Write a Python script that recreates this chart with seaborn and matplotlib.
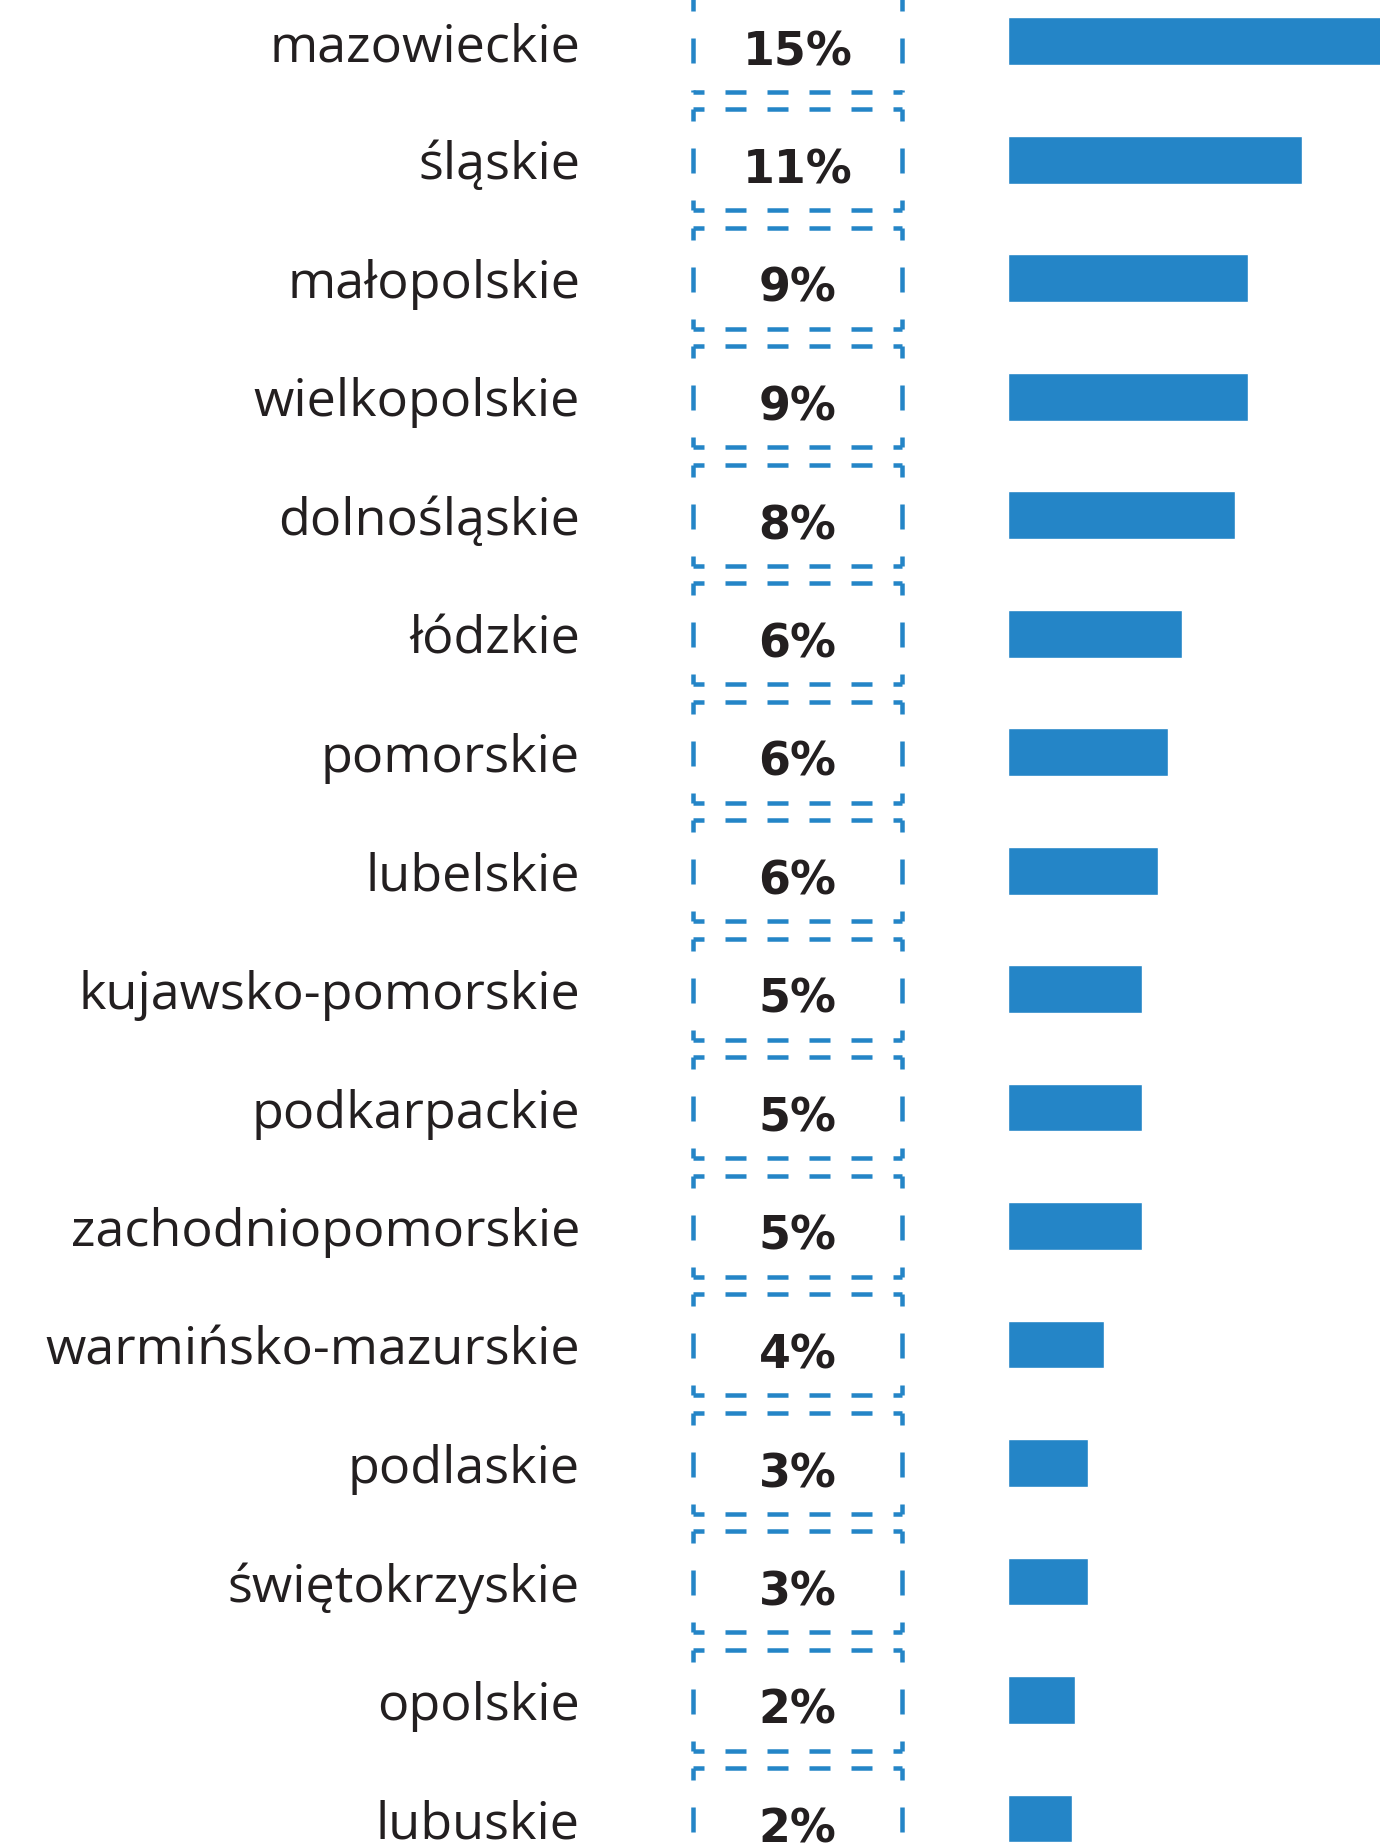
import matplotlib
matplotlib.use("Agg")
import matplotlib.pyplot as plt
import matplotlib.transforms as mtransforms
import seaborn as sns

# data
regions = [
    "mazowieckie", "śląskie", "małopolskie", "wielkopolskie", "dolnośląskie",
    "łódzkie", "pomorskie", "lubelskie", "kujawsko-pomorskie", "podkarpackie",
    "zachodniopomorskie", "warmińsko-mazurskie", "podlaskie", "świętokrzyskie",
    "opolskie", "lubuskie",
]
shares = [15.0, 11.0, 9.0, 9.0, 8.5, 6.5, 6.0, 5.6, 5.0, 5.0, 5.0, 3.6, 3.0, 3.0, 2.5, 2.4]
share_labels = ["15%", "11%", "9%", "9%", "8%", "6%", "6%", "6%",
                "5%", "5%", "5%", "4%", "3%", "3%", "2%", "2%"]

BLUE = "#2485c7"
DARK = "#231f20"

W, H = 1380, 1845
DPI = 100
PX = 72 / DPI  # points per pixel

sns.set_theme(style="white")
plt.rcParams["font.family"] = ["Open Sans", "DejaVu Sans"]
plt.rcParams["lines.scale_dashes"] = False

fig = plt.figure(figsize=(W / DPI, H / DPI), dpi=DPI)

# bar axes: starts at x=1008 px, runs to the right edge
bar_x0 = 1008
px_per_pct = 26.7
row_h = 118.5
first_row = 41
ax = fig.add_axes([bar_x0 / W, 0, (W - bar_x0) / W, 1])

sns.barplot(
    x=shares,
    y=regions,
    orient="h",
    color=BLUE,
    saturation=1,
    width=48 / row_h,
    ax=ax,
)
ax.set_xlim(0, (W - bar_x0) / px_per_pct)
ax.set_ylim((H - first_row) / row_h, -first_row / row_h)
ax.axis("off")

# text and boxes: x in figure fraction, y in category positions
trans = mtransforms.blended_transform_factory(fig.transFigure, ax.transData)

# size the region font so the longest name is ~533 px wide, as in the reference
renderer = fig.canvas.get_renderer()
probe = ax.text(0, 0, max(regions, key=len), fontsize=40, transform=trans)
name_size = 40 * 533 / probe.get_window_extent(renderer).width
probe.remove()

box_left, box_right = 693, 902
half_box = 50.5 / row_h
name_shift = 20 / row_h
pct_shift = 24 / row_h

for i, (name, lab) in enumerate(zip(regions, share_labels)):
    ax.text(580 / W, i + name_shift, name, transform=trans, ha="right",
            va="baseline", fontsize=name_size, color=DARK, clip_on=False)
    ax.text((box_left + box_right) / 2 / W, i + pct_shift, lab,
            transform=trans, ha="center", va="baseline", fontsize=33,
            fontweight="bold", family=["DejaVu Sans"],
            color=DARK, clip_on=False)

    top, bottom = i - half_box, i + half_box
    hstyle = (10 * PX, (21 * PX, 21 * PX))
    vstyle = (13 * PX, (25 * PX, 27 * PX))
    for yy in (top, bottom):
        ax.plot([box_left / W, box_right / W], [yy, yy], transform=trans,
                color=BLUE, lw=4.5 * PX, linestyle=hstyle, clip_on=False)
    for xx in (box_left, box_right):
        ax.plot([xx / W, xx / W], [top, bottom], transform=trans,
                color=BLUE, lw=4.5 * PX, linestyle=vstyle, clip_on=False)

fig.savefig("out.png", dpi=DPI)
